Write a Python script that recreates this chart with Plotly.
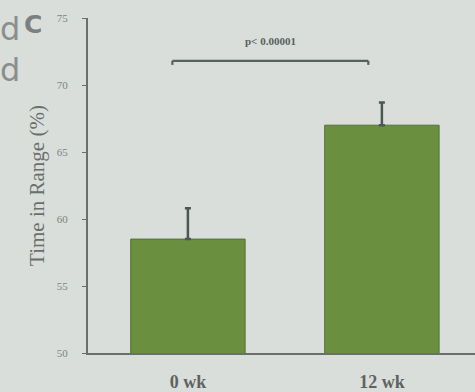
import plotly.graph_objects as go

categories = ["0 wk", "12 wk"]
values = [58.5, 67.0]
errors_up = [2.3, 1.7]
p_label = "p< 0.00001"
y_ticks = [50, 55, 60, 65, 70, 75]

BG = "#d9dedb"
GREEN = "#6a8f3f"

fig = go.Figure()
fig.add_trace(go.Bar(
    x=[0, 1], y=values, width=0.59,
    marker=dict(color=GREEN, line=dict(color="#55723a", width=1)),
    error_y=dict(type="data", symmetric=False, array=errors_up,
                 arrayminus=[0, 0], color="#4d5650", thickness=2.5, width=3),
))

# significance bracket
bx0, bx1, by, drop = -0.08, 0.93, 71.8, 0.3
fig.add_shape(type="line", x0=bx0, x1=bx1, y0=by, y1=by,
              line=dict(color="#5a605c", width=2.2))
fig.add_shape(type="line", x0=bx0, x1=bx0, y0=by, y1=by - drop,
              line=dict(color="#5a605c", width=2.2))
fig.add_shape(type="line", x0=bx1, x1=bx1, y0=by, y1=by - drop,
              line=dict(color="#5a605c", width=2.2))
fig.add_annotation(x=(bx0 + bx1) / 2, y=by + 1.5, text="<b>" + p_label + "</b>",
                   showarrow=False, font=dict(family="Liberation Serif", size=11, color="#5a605c"))

# photo artefacts: panel letters
fig.add_annotation(xref="paper", yref="paper", x=-0.232, y=0.968, xanchor="left", yanchor="middle",
                   text="d", showarrow=False, font=dict(family="DejaVu Sans", size=32, color="#8a8f8c"))
fig.add_annotation(xref="paper", yref="paper", x=-0.232, y=0.845, xanchor="left", yanchor="middle",
                   text="d", showarrow=False, font=dict(family="DejaVu Sans", size=32, color="#8a8f8c"))
fig.add_annotation(xref="paper", yref="paper", x=-0.17, y=0.982, xanchor="left", yanchor="middle",
                   text="<b>C</b>", showarrow=False, font=dict(family="DejaVu Sans", size=25, color="#7b807d"))

fig.update_layout(
    width=475, height=392,
    margin=dict(l=88, r=0, t=18, b=34),
    paper_bgcolor=BG, plot_bgcolor=BG,
    showlegend=False,
    bargap=0.4,
    xaxis=dict(range=[-0.515, 1.48], tickvals=[0, 1],
               ticktext=["<b>" + c + "</b>" for c in categories],
               tickfont=dict(family="Liberation Serif", size=18, color="#5e6360"),
               showline=True, linecolor="#6a6f6c", linewidth=2,
               ticks="outside", ticklen=11, tickcolor="rgba(0,0,0,0)",
               showgrid=False, zeroline=False, fixedrange=True),
    yaxis=dict(range=[50, 75], tickvals=y_ticks,
               tickfont=dict(family="Liberation Serif", size=11, color="#7e8380"),
               ticklabelstandoff=12,
               showline=True, linecolor="#6a6f6c", linewidth=2,
               ticks="outside", ticklen=4, tickcolor="#6a6f6c",
               showgrid=False, zeroline=False,
               title=dict(text="Time in Range (%)", standoff=6,
                          font=dict(family="Liberation Serif", size=21, color="#6a6f6c"))),
)

fig.write_html("out.html", config={"displayModeBar": False},
               post_script="document.body.style.margin='0';document.body.style.background='#d9dedb';")
